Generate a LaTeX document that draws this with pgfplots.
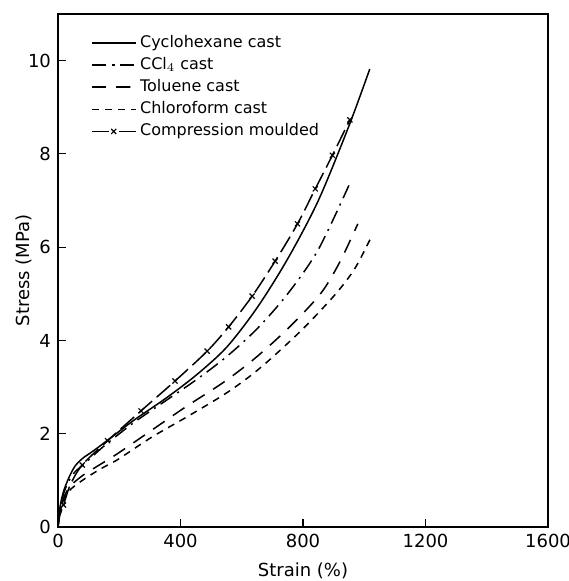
\documentclass[border=0pt]{standalone}
\usepackage{fontspec}
\setmainfont{DejaVu Sans}
\usepackage{pgfplots}
\pgfplotsset{compat=1.18}
\pgfplotsset{compmark legend/.style={legend image code/.code={\draw[##1, mark indices={2}, dash pattern=on 0.29cm off 0.18cm] plot coordinates {(0cm,0cm)(0.38cm,0cm)(0.76cm,0cm)};}}}
\begin{document}
\begin{tikzpicture}
\path[use as bounding box] (-29pt,-27pt) rectangle (255pt,263.5pt);
\begin{axis}[
    at={(0,0)}, anchor=south west,
    scale only axis, width=245pt, height=256.5pt,
    xmin=0, xmax=1600, ymin=0, ymax=11,
    xtick={0,400,800,1200,1600}, ytick={0,2,4,6,8,10},
    xtick pos=left, ytick pos=left, tick align=inside,
    major tick length=4pt,
    axis line style={line width=0.6pt},
    every tick/.style={line width=0.6pt, black},
    /pgf/number format/assume math mode=true,
    /pgf/number format/1000 sep={},
    ticklabel style={font=\fontsize{9}{10}\selectfont},
    xlabel={Strain (\%)}, ylabel={Stress (MPa)},
    label style={font=\fontsize{9}{10}\selectfont},
    xlabel style={yshift=-0.5pt}, ylabel style={yshift=-9pt},
    legend cell align=left,
    legend style={draw=none, fill=none, at={(0.055,0.975)}, anchor=north west,
        font=\fontsize{8}{9}\selectfont, row sep=-0.5pt},
    legend image code/.code={\draw[mark repeat=2,mark phase=2,#1] plot coordinates {(0cm,0cm)(0.38cm,0cm)(0.76cm,0cm)};},
    every axis plot/.append style={black, line width=0.75pt},
]
% Cyclohexane cast
\addplot[smooth, tension=0.5] coordinates {
(0,0)(4,0.3)(10,0.55)(20,0.8)(35,1.05)(55,1.3)(80,1.47)(115,1.63)(160,1.85)
(250,2.3)(350,2.75)(450,3.25)(550,3.85)(650,4.7)(750,5.75)(850,7.0)(950,8.6)(1018,9.82)};
\addlegendentry{Cyclohexane cast}
% CCl4 cast
\addplot[smooth, tension=0.5, dash pattern=on 7pt off 3pt on 1pt off 3pt] coordinates {
(0,0)(4,0.28)(10,0.5)(20,0.75)(35,0.98)(55,1.18)(84,1.34)(120,1.56)(162,1.8)
(250,2.25)(350,2.7)(450,3.15)(550,3.65)(650,4.25)(750,5.0)(850,5.95)(953,7.37)};
\addlegendentry{CCl$_4$ cast}
% Toluene cast
\addplot[smooth, tension=0.5, dash pattern=on 7pt off 5pt] coordinates {
(0,0)(4,0.25)(10,0.45)(20,0.65)(40,0.88)(84,1.12)(140,1.35)(196,1.58)
(307,2.08)(418,2.58)(540,3.1)(640,3.6)(750,4.25)(857,5.0)(920,5.68)(979,6.5)};
\addlegendentry{Toluene cast}
% Chloroform cast
\addplot[smooth, tension=0.5, dash pattern=on 3.5pt off 3pt] coordinates {
(0,0)(4,0.22)(10,0.4)(20,0.6)(40,0.8)(84,1.02)(140,1.25)(196,1.45)
(307,1.93)(418,2.35)(540,2.83)(620,3.2)(690,3.58)(800,4.25)(907,5.0)(970,5.55)(1023,6.22)};
\addlegendentry{Chloroform cast}
% Compression moulded
\addplot[smooth, tension=0.5, dash pattern=on 9pt off 3pt, mark=x, mark size=1.8pt,
    mark options={solid, line width=0.6pt},
    mark indices={3,5,6,7,8,9,10,11,12,13,14,15,16}, compmark legend] coordinates {
(0,0)(6,0.25)(18,0.47)(40,0.9)(79,1.33)(162,1.85)(271,2.49)(382,3.13)(487,3.77)
(557,4.29)(634,4.95)(709,5.70)(782,6.50)(840,7.25)(896,7.97)(953,8.73)};
\addlegendentry{Compression moulded}
\end{axis}
\end{tikzpicture}
\end{document}
